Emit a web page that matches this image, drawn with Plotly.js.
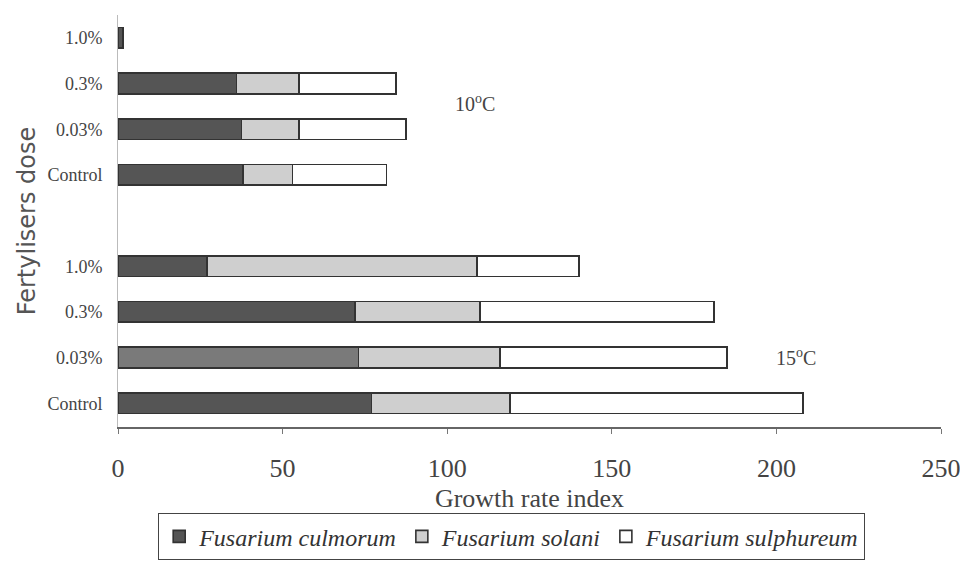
<!DOCTYPE html>
<html>
<head>
<meta charset="utf-8">
<script src="https://cdn.plot.ly/plotly-3.0.1.min.js"></script>
<style>html,body{margin:0;padding:0;background:#fff;}#chart{width:960px;height:562px;}</style>
</head>
<body>
<div id="chart"></div>
<script>
// Dose categories (bottom to top within each temperature group)
const doses = ['Control', '0.03%', '0.3%', '1.0%'];
const temps = ['15°C', '10°C'];

// Growth rate index, stacked: culmorum + solani + sulphureum
const culmorum15 = [77, 73, 72, 27];
const solani15 = [42, 43, 38, 82];
const sulphureum15 = [89, 69, 71, 31];

const culmorum10 = [38, 37.5, 36, 1.5];
const solani10 = [15, 17.5, 19, 0];
const sulphureum10 = [28.5, 32.5, 29.5, 0];

// y slots: 15°C group at 0..3, one empty slot, 10°C group at 5..8
const yPos = [];
const yText = [];
doses.forEach((d, i) => { yPos.push(i); yText.push(d); });
doses.forEach((d, i) => { yPos.push(5 + i); yText.push(d); });

const culmorum = culmorum15.concat(culmorum10);
const solani = solani15.concat(solani10);
const sulphureum = sulphureum15.concat(sulphureum10);

const culmColors = yPos.map((y) => (y === 1 ? '#7a7a7a' : '#555555'));

const outline = {color: '#333333', width: 1.6};
const barW = 0.45;

const traces = [
  {type: 'bar', orientation: 'h', name: '<i>Fusarium culmorum</i>', x: culmorum, y: yPos,
   width: barW, marker: {color: culmColors, line: outline}},
  {type: 'bar', orientation: 'h', name: '<i>Fusarium solani</i>', x: solani, y: yPos,
   width: barW, marker: {color: '#cfcfcf', line: outline}},
  {type: 'bar', orientation: 'h', name: '<i>Fusarium sulphureum</i>', x: sulphureum, y: yPos,
   width: barW, marker: {color: '#ffffff', line: outline}}
];

const serif = 'Liberation Serif, Times New Roman, serif';

const layout = {
  width: 960, height: 562,
  barmode: 'stack',
  paper_bgcolor: '#ffffff', plot_bgcolor: '#ffffff',
  margin: {l: 118, r: 19, t: 15, b: 135},
  showlegend: true,
  legend: {
    orientation: 'h', xref: 'container', yref: 'container',
    x: 0.533, xanchor: 'center', y: 0.003, yanchor: 'bottom',
    bordercolor: '#444', borderwidth: 1, bgcolor: '#fff',
    font: {family: serif, size: 24, color: '#333'},
    traceorder: 'normal', itemwidth: 30, tracegroupgap: 0
  },
  xaxis: {
    range: [0, 250], dtick: 50, tick0: 0,
    showgrid: false, zeroline: false, automargin: false,
    showline: true, linecolor: '#666', linewidth: 1.5,
    ticks: 'outside', ticklen: 5, tickcolor: '#777',
    ticklabelstandoff: 12, ticklabeloverflow: 'allow',
    tickfont: {family: serif, size: 26, color: '#444'},
    title: {text: 'Growth rate index', font: {family: serif, size: 26, color: '#444'}, standoff: 9}
  },
  yaxis: {
    range: [-0.52, 8.5], automargin: false,
    tickmode: 'array', tickvals: yPos, ticktext: yText,
    showgrid: false, zeroline: false,
    showline: true, linecolor: '#bbb', linewidth: 1,
    ticks: 'outside', ticklen: 11, tickcolor: 'rgba(0,0,0,0)',
    tickfont: {family: serif, size: 18, color: '#444'},
    title: {text: 'Fertylisers dose', font: {family: 'DejaVu Sans, Arial, sans-serif', size: 24, color: '#555'}, standoff: 4}
  },
  annotations: [
    {xref: 'x', yref: 'y', x: 108.5, y: 6.57, text: '10<sup>o</sup>C', showarrow: false,
     font: {family: serif, size: 20, color: '#444'}},
    {xref: 'x', yref: 'y', x: 206, y: 1.01, text: '15<sup>o</sup>C', showarrow: false,
     font: {family: serif, size: 20, color: '#444'}}
  ]
};

Plotly.newPlot('chart', traces, layout, {displayModeBar: false, staticPlot: true});
</script>
</body>
</html>
